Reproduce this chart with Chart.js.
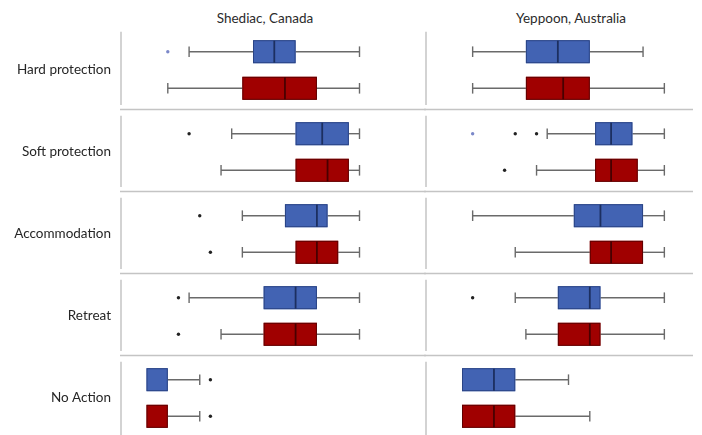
<!DOCTYPE html>
<html><head><meta charset="utf-8">
<script src="https://cdn.jsdelivr.net/npm/chart.js@4"></script>
<style>
html,body{margin:0;padding:0;background:#fff;overflow:hidden;width:702px;height:435px;}
#wrap{position:relative;width:702px;height:435px;overflow:hidden;}
.title{position:absolute;top:10px;font:13.5px Lato, sans-serif;line-height:17px;color:#2b2b2b;transform:translateX(-50%);white-space:nowrap;}
canvas{position:absolute;top:0;}
</style></head>
<body><div id="wrap">
<div class="title" id="t1" style="left:265px"></div>
<div class="title" id="t2" style="left:571px"></div>
<canvas id="c1" width="426" height="442" style="left:0"></canvas>
<canvas id="c2" width="278" height="442" style="left:424px"></canvas>
</div>
<script>
const categories = ['Hard protection','Soft protection','Accommodation','Retreat','No Action'];
const panelTitles = ['Shediac, Canada','Yeppoon, Australia'];

// Shediac, Canada
const shediacBlueMin = [4, 8, 9, 4, 0];
const shediacBlueQ1  = [10, 14, 13, 11, 0];
const shediacBlueMed = [12, 16.5, 16, 14, 0];
const shediacBlueQ3  = [14, 19, 17, 16, 2];
const shediacBlueMax = [20, 20, 20, 20, 5];
const shediacBlueOutliers = [[], [4], [5], [3], [6]];
const shediacBlueFaint = [[2], [], [], [], []];
const shediacRedMin = [2, 7, 9, 7, 0];
const shediacRedQ1  = [9, 14, 14, 11, 0];
const shediacRedMed = [13, 17, 16, 14, 0];
const shediacRedQ3  = [16, 19, 18, 16, 2];
const shediacRedMax = [20, 20, 20, 20, 5];
const shediacRedOutliers = [[], [], [6], [3], [6]];
const shediacRedFaint = [[], [], [], [], []];

// Yeppoon, Australia
const yeppoonBlueMin = [1, 8, 1, 5, 0];
const yeppoonBlueQ1  = [6, 12.5, 10.5, 9, 0];
const yeppoonBlueMed = [9, 14, 13, 12, 3];
const yeppoonBlueQ3  = [12, 16, 17, 13, 5];
const yeppoonBlueMax = [17, 19, 19, 19, 10];
const yeppoonBlueOutliers = [[], [5, 7], [], [1], []];
const yeppoonBlueFaint = [[], [1], [], [], []];
const yeppoonRedMin = [1, 7, 5, 6, 0];
const yeppoonRedQ1  = [6, 12.5, 12, 9, 0];
const yeppoonRedMed = [9.5, 14, 14, 12, 3];
const yeppoonRedQ3  = [12, 16.5, 17, 13, 5];
const yeppoonRedMax = [19, 19, 19, 19, 12];
const yeppoonRedOutliers = [[], [4], [], [], []];
const yeppoonRedFaint = [[], [], [], [], []];

document.getElementById('t1').textContent = panelTitles[0];
document.getElementById('t2').textContent = panelTitles[1];

const BLUE = '#4263b3', BLUE_EDGE = '#2a4485', BLUE_MED = '#1c2f60';
const RED = '#a00000', RED_EDGE = '#600000', RED_MED = '#480000';
const FONT = 'Lato, sans-serif';

const boxExtras = {
  id: 'boxExtras',
  beforeDatasetsDraw(chart, args, o) {
    const {ctx, chartArea, scales: {x, y}} = chart;
    const n = categories.length;
    const half = (y.getPixelForValue(1) - y.getPixelForValue(0)) / 2;
    ctx.save();
    ctx.strokeStyle = '#c4c4c4';
    ctx.lineWidth = 1.5;
    const seps = [];
    for (let k = 0; k < n - 1; k++) seps.push(y.getPixelForValue(k) + half - 1.5);
    seps.forEach(s => {
      ctx.beginPath(); ctx.moveTo(o.sepLeft, s); ctx.lineTo(chartArea.right, s); ctx.stroke();
    });
    for (let k = 0; k < n; k++) {
      const top = k === 0 ? chartArea.top + 2.7 : seps[k - 1] + 6.3;
      const bot = k === n - 1 ? chartArea.bottom : seps[k] - 4.5;
      ctx.beginPath(); ctx.moveTo(chartArea.left, top); ctx.lineTo(chartArea.left, bot); ctx.stroke();
    }
    // whiskers
    ctx.strokeStyle = '#6a6a6a';
    ctx.lineWidth = 1.4;
    o.series.forEach(s => {
      const meta = chart.getDatasetMeta(s.dataset);
      for (let i = 0; i < n; i++) {
        const yc = meta.data[i].y;
        const pairs = [[s.min[i], s.q1[i]], [s.q3[i], s.max[i]]];
        pairs.forEach(([a, b], j) => {
          if (a === b) return;
          const xa = x.getPixelForValue(a), xb = x.getPixelForValue(b);
          ctx.beginPath(); ctx.moveTo(xa, yc); ctx.lineTo(xb, yc); ctx.stroke();
          const xc = j === 0 ? xa : xb;
          ctx.beginPath(); ctx.moveTo(xc, yc - 5.3); ctx.lineTo(xc, yc + 5.3); ctx.stroke();
        });
      }
    });
    ctx.restore();
  },
  afterDatasetsDraw(chart, args, o) {
    const {ctx, scales: {x}} = chart;
    ctx.save();
    o.series.forEach(s => {
      const meta = chart.getDatasetMeta(s.dataset);
      for (let i = 0; i < categories.length; i++) {
        const el = meta.data[i];
        const yc = el.y, h = el.height;
        const x1 = x.getPixelForValue(s.q1[i]), x3 = x.getPixelForValue(s.q3[i]);
        ctx.strokeStyle = s.edge; ctx.lineWidth = 1;
        ctx.strokeRect(x1 + 0.5, yc - h / 2 + 0.5, x3 - x1 - 1, h - 1);
        if (s.med[i] > s.q1[i] && s.med[i] < s.q3[i]) {
          const xm = x.getPixelForValue(s.med[i]);
          ctx.strokeStyle = s.medColor; ctx.lineWidth = 1.8;
          ctx.beginPath(); ctx.moveTo(xm, yc - h / 2 + 0.5); ctx.lineTo(xm, yc + h / 2 - 0.5); ctx.stroke();
        }
        [[s.outliers[i], '#222222'], [s.faint[i], '#7b88c9']].forEach(([list, col]) => {
          ctx.fillStyle = col;
          list.forEach(v => {
            ctx.beginPath(); ctx.arc(x.getPixelForValue(v), yc, 1.7, 0, Math.PI * 2); ctx.fill();
          });
        });
      }
    });
    ctx.restore();
  }
};

function makeChart(id, d, xmin, xmax, showLabels, padding, sepLeft) {
  return new Chart(document.getElementById(id), {
    type: 'bar',
    data: {
      labels: categories,
      datasets: [
        {label: 'blue', data: d.bq1.map((v, i) => [v, d.bq3[i]]), backgroundColor: BLUE, borderWidth: 0,
         categoryPercentage: 0.893, barPercentage: 0.628},
        {label: 'red', data: d.rq1.map((v, i) => [v, d.rq3[i]]), backgroundColor: RED, borderWidth: 0,
         categoryPercentage: 0.893, barPercentage: 0.628}
      ]
    },
    options: {
      indexAxis: 'y',
      responsive: false,
      animation: false,
      events: [],
      layout: {padding},
      scales: {
        x: {type: 'linear', min: xmin, max: xmax, display: false},
        y: {
          type: 'category',
          display: showLabels,
          afterFit: ax => { if (showLabels) { ax.width = 121; ax.paddingTop = 0; ax.paddingBottom = 0; } },
          grid: {display: false, drawTicks: false},
          border: {display: false},
          ticks: {padding: 10, color: '#262626', font: {family: FONT, size: 13.5}}
        }
      },
      plugins: {
        legend: {display: false},
        tooltip: {enabled: false},
        boxExtras: {
          sepLeft,
          series: [
            {dataset: 0, min: d.bmin, q1: d.bq1, med: d.bmed, q3: d.bq3, max: d.bmax, outliers: d.bout, faint: d.bfaint,
             edge: BLUE_EDGE, medColor: BLUE_MED},
            {dataset: 1, min: d.rmin, q1: d.rq1, med: d.rmed, q3: d.rq3, max: d.rmax, outliers: d.rout, faint: d.rfaint,
             edge: RED_EDGE, medColor: RED_MED}
          ]
        }
      }
    },
    plugins: [boxExtras]
  });
}

makeChart('c1', {
  bmin: shediacBlueMin, bq1: shediacBlueQ1, bmed: shediacBlueMed, bq3: shediacBlueQ3, bmax: shediacBlueMax,
  bout: shediacBlueOutliers, bfaint: shediacBlueFaint,
  rmin: shediacRedMin, rq1: shediacRedQ1, rmed: shediacRedMed, rq3: shediacRedQ3, rmax: shediacRedMax,
  rout: shediacRedOutliers, rfaint: shediacRedFaint
}, -2.394, 26.244, true, {left: 0, right: 0, top: 29, bottom: 3}, 120);

makeChart('c2', {
  bmin: yeppoonBlueMin, bq1: yeppoonBlueQ1, bmed: yeppoonBlueMed, bq3: yeppoonBlueQ3, bmax: yeppoonBlueMax,
  bout: yeppoonBlueOutliers, bfaint: yeppoonBlueFaint,
  rmin: yeppoonRedMin, rq1: yeppoonRedQ1, rmed: yeppoonRedMed, rq3: yeppoonRedQ3, rmax: yeppoonRedMax,
  rout: yeppoonRedOutliers, rfaint: yeppoonRedFaint
}, -3.380, 21.69, false, {left: 2, right: 9, top: 29, bottom: 3}, 0);
</script>
</body></html>
